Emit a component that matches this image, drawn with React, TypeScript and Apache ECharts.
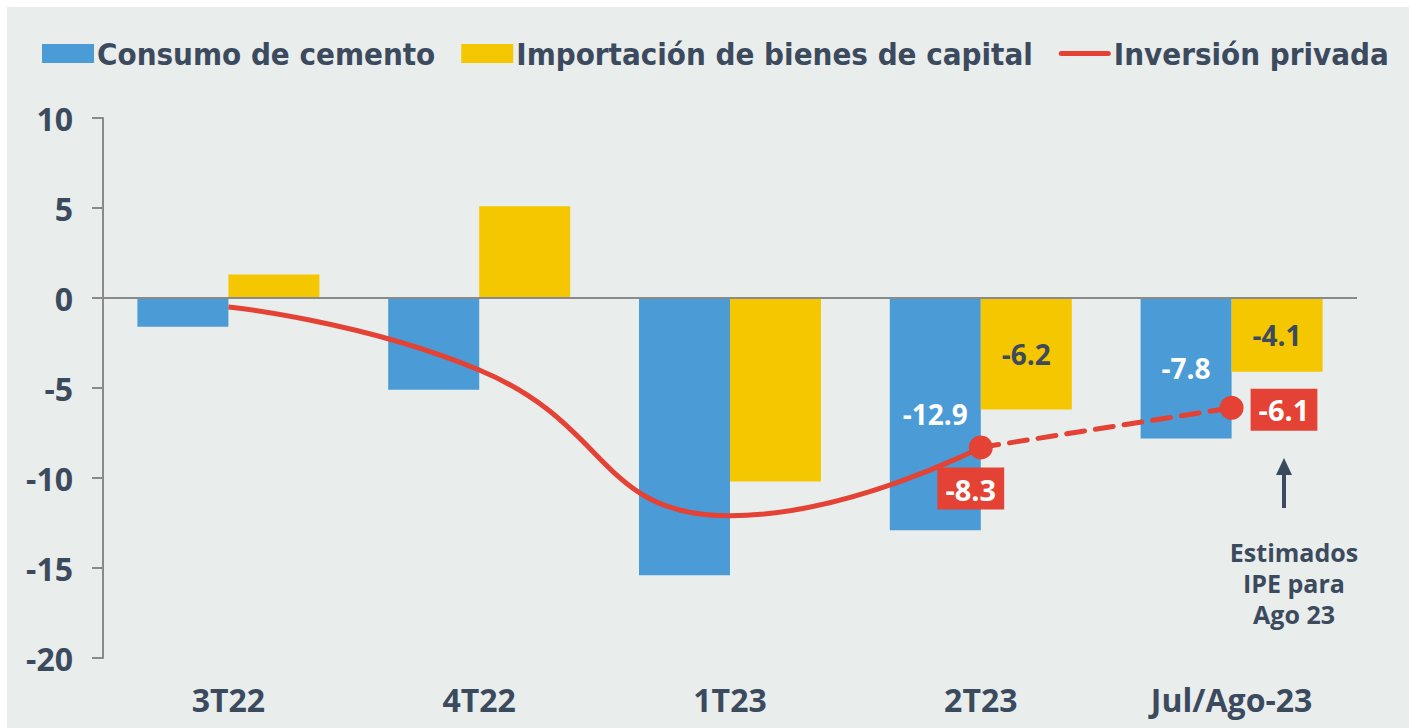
import React, { useEffect, useRef } from "react";
import * as echarts from "echarts";

const categories = ["3T22", "4T22", "1T23", "2T23", "Jul/Ago-23"];
const cemento = [-1.6, -5.1, -15.4, -12.9, -7.8];
const importacion = [1.3, 5.1, -10.2, -6.2, -4.1];
const inversion: (number | null)[] = [-0.5, -4.0, -12.1, -8.3, null];
const inversionEstimada: (number | null)[] = [null, null, null, -8.3, -6.1];
const labeledBars = [3, 4];
const yMin = -20;
const yMax = 10;
const yStep = 5;
const noteText = "Estimados\nIPE para\nAgo 23";

const BG = "#e9edec";
const DARK = "#3c4a5e";
const BLUE = "#4b9bd6";
const YELLOW = "#f5c700";
const RED = "#e34234";
const AXIS = "#8a8a8a";
const NUM_FONT = "'Open Sans', sans-serif";
const LEG_FONT = "'DejaVu Sans Condensed', 'DejaVu Sans', sans-serif";

export default function App() {
  const ref = useRef<HTMLDivElement>(null);
  useEffect(() => {
    if (!ref.current) return;
    const chart = echarts.init(ref.current, undefined, { renderer: "svg" });
    const barData = (arr: number[], color: string) =>
      arr.map((v, i) => ({
        value: v,
        label: {
          show: labeledBars.includes(i),
          position: "inside",
          color,
          fontFamily: NUM_FONT,
          fontWeight: "bold",
          fontSize: 28,
        },
      }));
    const redLabel = {
      show: true,
      color: "#ffffff",
      backgroundColor: RED,
      fontFamily: NUM_FONT,
      fontWeight: "bold",
      fontSize: 29,
      padding: [8, 8, 5, 8],
      formatter: (p: any) => String(p.value),
    };
    chart.setOption({
      animation: false,
      backgroundColor: BG,
      legend: {
        left: 30,
        top: 26,
        width: 1372,
        itemWidth: 52,
        itemHeight: 19,
        itemGap: 26,
        symbolKeepAspect: true,
        textStyle: {
          color: DARK,
          fontFamily: LEG_FONT,
          fontWeight: "bold",
          fontSize: 31,
          padding: [0, 0, 0, -2],
        },
        data: [
          { name: "Consumo de cemento", icon: "rect" },
          { name: "Importación de bienes de capital", icon: "rect" },
          {
            name: "Inversión privada",
            icon: "path://M3,0 L97,0 A3,3 0 0 1 97,10 L3,10 A3,3 0 0 1 3,0 Z",
            itemStyle: { color: RED },
          },
        ],
      },
      grid: { left: 96, top: 111, right: 52, bottom: 70 },
      xAxis: {
        type: "category",
        data: categories,
        axisLine: { show: false },
        axisTick: { show: false },
        axisLabel: {
          color: DARK,
          fontFamily: NUM_FONT,
          fontWeight: "bold",
          fontSize: 32,
          margin: 25,
        },
      },
      yAxis: {
        type: "value",
        min: yMin,
        max: yMax,
        interval: yStep,
        axisLine: { show: true, lineStyle: { color: AXIS, width: 2 } },
        axisTick: { show: true, inside: false, length: 11, lineStyle: { color: AXIS, width: 2 } },
        splitLine: { show: false },
        axisLabel: {
          color: DARK,
          fontFamily: NUM_FONT,
          fontWeight: "bold",
          fontSize: 32,
          margin: 30,
        },
      },
      series: [
        {
          name: "Consumo de cemento",
          type: "bar",
          barWidth: 91,
          barGap: "0%",
          itemStyle: { color: BLUE },
          data: barData(cemento, "#ffffff"),
          markLine: {
            silent: true,
            symbol: "none",
            label: { show: false },
            lineStyle: { color: AXIS, width: 2, type: "solid" },
            data: [{ yAxis: 0 }],
          },
          z: 2,
        },
        {
          name: "Importación de bienes de capital",
          type: "bar",
          barWidth: 91,
          barGap: "0%",
          itemStyle: { color: YELLOW },
          data: barData(importacion, DARK),
          z: 2,
        },
        {
          name: "Inversión privada",
          type: "line",
          smooth: 0.5,
          symbol: "none",
          lineStyle: { color: RED, width: 5 },
          itemStyle: { color: RED },
          z: 5,
          data: inversion.map((v, i) =>
            i === 3
              ? {
                  value: v,
                  symbol: "circle",
                  symbolSize: 24,
                  label: { ...redLabel, position: "bottom", distance: 8, offset: [-10, 0] },
                }
              : v
          ),
        },
        {
          name: "Inversión privada estimada",
          type: "line",
          symbol: "none",
          lineStyle: { color: RED, width: 5, type: [18, 11], cap: "round" },
          itemStyle: { color: RED },
          z: 4,
          data: inversionEstimada.map((v, i) =>
            i === 4
              ? {
                  value: v,
                  symbol: "circle",
                  symbolSize: 24,
                  label: { ...redLabel, position: "right", distance: 7, offset: [0, 2] },
                }
              : v
          ),
        },
      ],
      graphic: [
        {
          type: "line",
          shape: { x1: 1277, y1: 466, x2: 1277, y2: 501 },
          style: { stroke: DARK, lineWidth: 4 },
        },
        {
          type: "polygon",
          shape: { points: [[1277, 451], [1269, 468], [1285, 468]] },
          style: { fill: DARK },
        },
        {
          type: "text",
          x: 1287,
          y: 576,
          style: {
            text: noteText,
            fill: DARK,
            font: "bold 25px 'Open Sans', sans-serif",
            lineHeight: 31,
            align: "center",
            verticalAlign: "middle",
          },
        },
      ],
    });
    return () => chart.dispose();
  }, []);
  return (
    <div
      ref={ref}
      style={{ position: "absolute", left: 7, top: 7, width: 1402, height: 721 }}
    />
  );
}
